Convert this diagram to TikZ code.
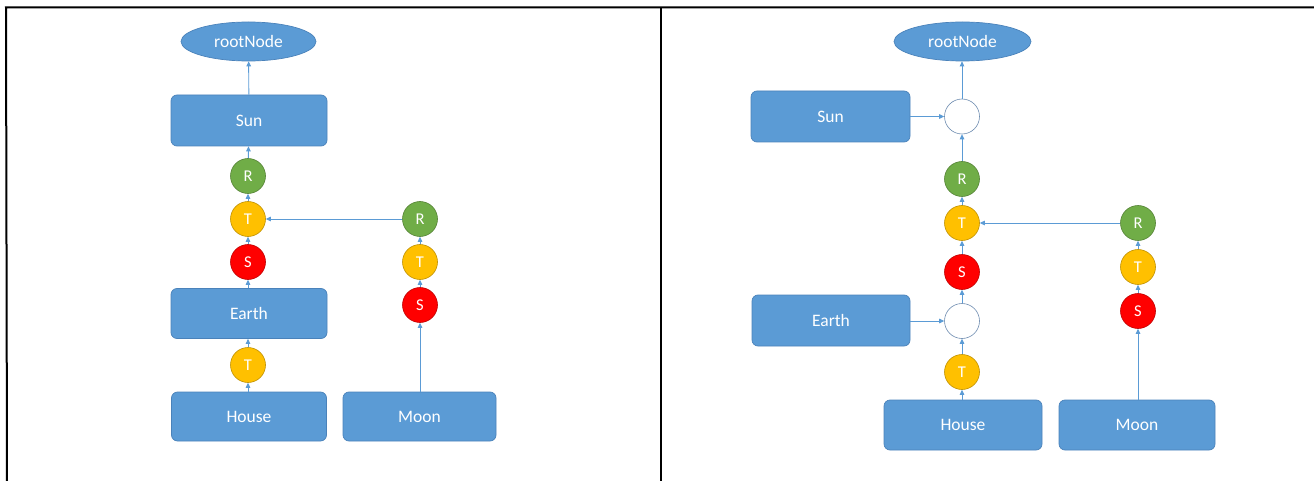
\documentclass[tikz,border=0pt]{standalone}
\usepackage{fontspec}
\setmainfont{Carlito}
\usetikzlibrary{arrows.meta,shapes.geometric}
\definecolor{boxblue}{HTML}{5B9BD5}
\definecolor{boxedge}{HTML}{4A82BA}
\definecolor{linkblue}{HTML}{5B9BD5}
\definecolor{rgreen}{HTML}{70AD47}
\definecolor{ryellow}{HTML}{FFC000}
\definecolor{rred}{HTML}{FF0000}
\definecolor{joinedge}{HTML}{6E8CB0}
\tikzset{
  box/.style={rectangle, rounded corners=6pt, fill=boxblue, draw=boxedge, line width=0.7pt,
    text=white, font=\fontsize{17.5}{19}\selectfont, inner sep=0pt},
  oval/.style={ellipse, fill=boxblue, draw=boxedge, line width=0.7pt,
    text=white, font=\fontsize{17.5}{19}\selectfont, inner sep=0pt},
  ball/.style={circle, minimum size=35pt, inner sep=0pt, line width=0.6pt,
    text=white, font=\fontsize{16.5}{18}\selectfont},
  rball/.style={ball, fill=rgreen, draw=rgreen!75!black},
  tball/.style={ball, fill=ryellow, draw=ryellow!75!black},
  sball/.style={ball, fill=rred, draw=rred!75!black},
  joinball/.style={ball, fill=white, draw=joinedge},
  link/.style={draw=linkblue, line width=0.9pt, -{Triangle[length=5pt,width=4.5pt]}},
  frame/.style={draw=black, line width=2pt}
}
\begin{document}
\begin{tikzpicture}[x=1pt,y=-1pt]
\useasboundingbox (0,0) rectangle (1314,481);
% frame
\coordinate (ftl) at (6,7.5);
\coordinate (ftr) at (1314,7.5);
\coordinate (flb) at (7,481);
\coordinate (fmt) at (661,7.5);
\coordinate (fmb) at (661,481);
\draw[frame] (ftr) -- (ftl) -- (flb);
\draw[frame] (fmt) -- (fmb);

% ---------- left panel ----------
\node[oval, minimum width=135pt, minimum height=39pt] (rootL) at (248.5,41.5) {rootNode};
\node[box, minimum width=156pt, minimum height=51pt] (sunL) at (249,120.5) {Sun};
\node[rball] (rL) at (248,176) {R};
\node[tball] (tL) at (248,219) {T};
\node[sball] (sL) at (248,262) {S};
\node[box, minimum width=156pt, minimum height=50pt] (earthL) at (249,313.5) {Earth};
\node[tball] (t2L) at (248,365) {T};
\node[box, minimum width=155pt, minimum height=49pt] (houseL) at (249,416.5) {House};
\node[box, minimum width=153pt, minimum height=49pt] (moonL) at (419.5,416.5) {Moon};
\node[rball] (rrL) at (420,219) {R};
\node[tball] (trL) at (420,262) {T};
\node[sball] (srL) at (420,305) {S};

\draw[link] (sunL) -- (rootL);
\draw[link] (rL) -- (sunL);
\draw[link] (tL) -- (rL);
\draw[link] (sL) -- (tL);
\draw[link] (earthL.north -| sL) -- (sL);
\draw[link] (t2L) -- (earthL.south -| t2L);
\draw[link] (houseL.north -| t2L) -- (t2L);
\draw[link] (moonL.north -| srL) -- (srL);
\draw[link] (srL) -- (trL);
\draw[link] (trL) -- (rrL);
\draw[link] (rrL) -- (tL);

% ---------- right panel ----------
\node[oval, minimum width=137pt, minimum height=39pt] (rootR) at (962.5,41.5) {rootNode};
\node[box, minimum width=159pt, minimum height=51pt] (sunR) at (830.5,116.5) {Sun};
\node[joinball] (c1R) at (962,116.5) {};
\node[rball] (rR) at (962,179) {R};
\node[tball] (tR) at (962,223) {T};
\node[sball] (sR) at (962,272) {S};
\node[joinball] (c2R) at (962,321) {};
\node[box, minimum width=158pt, minimum height=51pt] (earthR) at (831,320.5) {Earth};
\node[tball] (t2R) at (962,372) {T};
\node[box, minimum width=158pt, minimum height=50pt] (houseR) at (963,425) {House};
\node[box, minimum width=156pt, minimum height=50pt] (moonR) at (1137,425) {Moon};
\node[rball] (rrR) at (1138,223) {R};
\node[tball] (trR) at (1138,267) {T};
\node[sball] (srR) at (1138,311) {S};

\draw[link] (c1R) -- (rootR.south -| c1R);
\draw[link] (sunR.east |- c1R) -- (c1R);
\draw[link] (rR) -- (c1R);
\draw[link] (tR) -- (rR);
\draw[link] (sR) -- (tR);
\draw[link] (c2R) -- (sR);
\draw[link] (earthR.east |- c2R) -- (c2R);
\draw[link] (t2R) -- (c2R);
\draw[link] (houseR.north -| t2R) -- (t2R);
\draw[link] (moonR.north -| srR) -- (srR);
\draw[link] (srR) -- (trR);
\draw[link] (trR) -- (rrR);
\draw[link] (rrR) -- (tR);
\end{tikzpicture}
\end{document}
